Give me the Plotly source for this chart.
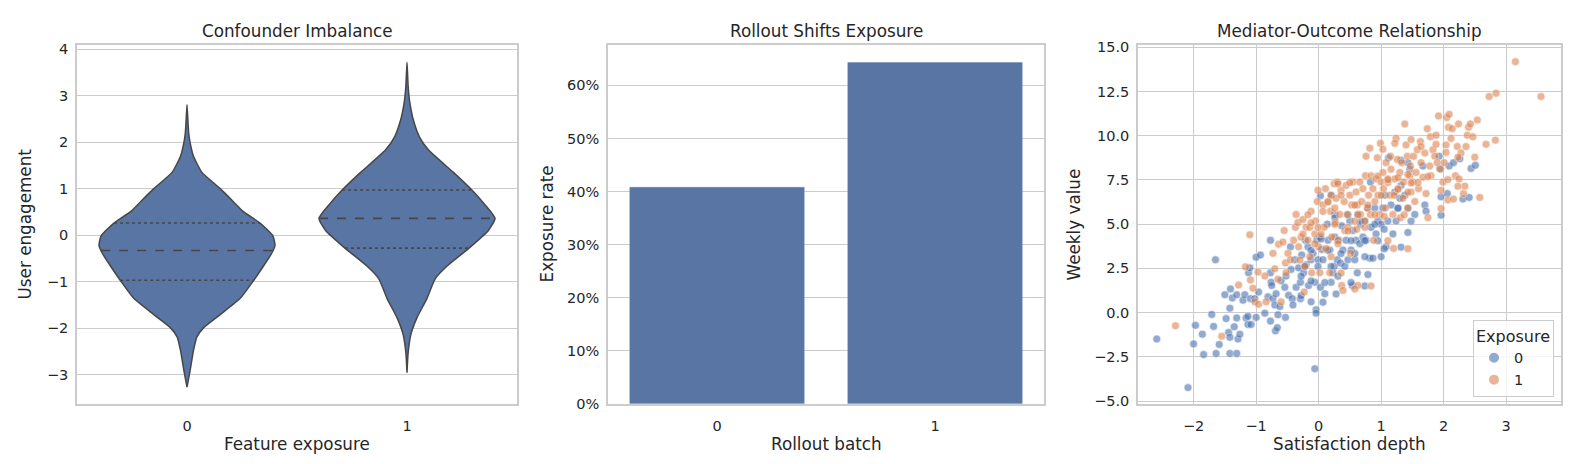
import numpy as np
import plotly.graph_objects as go

# ---------------- data ----------------
violin_groups = ["0", "1"]
# density profile of each violin: y level and half width (category units)
v0_y = [2.81, 2.39, 2.18, 1.97, 1.69, 1.35, 1.00, 0.72, 0.51, 0.26, -0.01, -0.22,
        -0.39, -0.67, -0.98, -1.36, -1.71, -1.99, -2.19, -2.47, -2.89, -3.27]
v0_hw = [0.0, 0.005, 0.008, 0.015, 0.030, 0.068, 0.151, 0.211, 0.255, 0.332, 0.390, 0.400,
         0.385, 0.347, 0.302, 0.242, 0.151, 0.076, 0.045, 0.030, 0.015, 0.0]
v1_y = [3.72, 3.22, 2.88, 2.46, 2.11, 1.83, 1.35, 0.97, 0.65, 0.36, 0.10, -0.28,
        -0.67, -0.94, -1.36, -1.78, -2.13, -2.54, -2.96]
v1_hw = [0.0, 0.005, 0.012, 0.030, 0.057, 0.098, 0.211, 0.295, 0.355, 0.400, 0.370, 0.282,
         0.181, 0.128, 0.091, 0.045, 0.018, 0.005, 0.0]
v0_quartiles = [-0.97, -0.33, 0.26]
v1_quartiles = [-0.28, 0.36, 0.97]

bar_cats = ["0", "1"]
bar_rates = [0.408, 0.643]

blue_x = [-2.59, -2.09, -2.0, -1.97, -1.86, -1.84, -1.71, -1.68, -1.64, -1.65, -1.59, -1.50, -1.48,
          -1.44, -1.42, -1.42, -1.42, -1.41, -1.38, -1.35, -1.31, -1.31, -1.29, -1.26, -1.31, -1.21,
          -1.18, -1.16, -1.13, -1.12, -1.10, -1.09, -1.13, -1.08, -1.00, -0.93, -1.02, -1.00, -0.96,
          -0.86, -0.81, -0.77, -0.77, -0.77, -0.76, -0.75, -0.73, -0.70, -0.69, -0.66, -0.65, -0.68,
          -0.62, -0.60, -0.54, -0.53, -0.52, -0.48, -0.45, -0.44, -0.42, -0.41, -0.38, -0.36, -0.32,
          -0.29, -0.29, -0.27, -0.24, -0.21, -0.20, -0.17, -0.16, -0.12, -0.12, -0.09, -0.06, -0.06,
          -0.04, -0.04, -0.03, -0.01, 0.02, 0.03, 0.03, 0.05, 0.07, 0.10, 0.14, 0.15, 0.18, 0.20,
          0.23, 0.25, 0.26, 0.26, 0.30, 0.32, 0.35, 0.37, 0.39, 0.42, 0.44, 0.47, 0.50, 0.52, 0.54,
          0.55, 0.58, 0.60, 0.62, 0.63, 0.66, 0.67, 0.71, 0.74, 0.76, 0.79, 0.82, 0.83, 0.84, 0.87,
          0.90, 0.92, 0.95, 1.00, 1.03, 1.06, 1.08, 1.11, 1.12, 1.16, 1.19, 1.22, 1.24, 1.27, 1.30,
          1.32, 1.38, 1.43, 1.46, 1.54, 1.67, 1.70, 1.72, 1.93, 1.96, 2.06, 2.09, 2.16,
          0.20, 0.26, 0.47, 0.68, 0.90, 1.05, 1.27, 1.43, 1.48, 1.43, 1.32, 0.95, 0.74, 0.52,
          0.04, -0.12, 0.15, 0.36, 0.58, 0.74, 1.00, 1.05, -0.22, -0.01, 0.20, -0.28, -0.12,
          0.10, 0.31, 0.52, 0.79, 0.74, 0.28, 0.07, -0.28,
          2.44, 2.51, 2.26, 1.94, 1.32, 2.31, 2.41, 1.96]
blue_y = [-1.49, -4.24, -1.77, -0.72, -1.22, -2.37, -0.10, -0.78, -2.31, 2.99, -1.80, 1.01, -0.34,
          -1.12, -2.31, -1.40, 0.25, 1.34, 0.83, -0.80, -2.31, -0.30, -1.49, -1.22, 1.01, 0.70,
          1.01, -0.30, -0.67, 2.25, 2.53, 0.79, -0.21, -0.67, 3.13, 3.26, 0.79, -0.27, 1.16,
          -0.03, 0.89, -0.48, 4.09, 2.25, 1.71, 1.53, 0.79, 0.43, -1.03, -0.85, -0.12, 1.07,
          0.34, 1.80, 1.43, -0.27, 2.07, 0.98, 3.72, 2.44, 0.79, 0.43, 2.99, 1.43, 2.53,
          1.71, 0.79, 3.26, 2.25, 4.09, 2.71, 3.72, 1.53, 0.61, 2.99, 3.35, 1.71, -3.17,
          0.16, -0.03, 4.09, 2.99, 4.27, 6.61, 1.43, 3.57, 2.99, 1.07, 5.00, 4.09, 3.54, 1.71,
          2.25, 2.62, 5.55, 4.27, 2.99, 4.09, 2.80, 4.91, 3.54, 2.62, 4.09, 2.99, 5.18, 3.54, 1.53,
          4.64, 2.99, 4.09, 2.25, 5.55, 3.90, 5.00, 4.27, 5.18, 4.09, 5.91, 3.08, 7.38, 4.82, 3.08,
          5.91, 4.45, 5.18, 5.00, 5.91, 6.64, 3.72, 5.18, 8.75, 6.09, 4.45, 6.82, 5.18, 5.91, 6.46,
          7.19, 6.64, 8.48, 8.11, 5.55, 8.29, 6.09, 5.73, 8.84, 6.55, 6.73, 8.29, 8.48,
          6.63, 5.35, 5.53, 5.17, 4.99, 4.71, 5.90, 5.90, 5.17, 4.53, 3.70, 4.07, 4.07, 4.07,
          4.16, 3.52, 3.52, 3.34, 3.34, 3.16, 3.16, 3.61, 2.61, 2.61, 2.61, 2.06, 1.79,
          1.70, 2.06, 1.70, 2.15, 1.51, 1.05, 0.59, 0.96,
          8.15, 8.33, 8.70, 8.15, 8.61, 6.42, 6.51, 5.51]

orange_x = [-2.29, -1.55, -1.28, -1.17, -1.10, -1.09, -1.05, -1.02, -0.97, -0.96, -0.86, -0.84, -0.73,
            -0.70, -0.65, -0.64, -0.60, -0.57, -0.55, -0.53, -0.52, -0.49, -0.45, -0.40, -0.37, -0.36,
            -0.33, -0.32, -0.28, -0.25, -0.23, -0.22, -0.20, -0.17, -0.14, -0.12, -0.11, -0.06, -0.05,
            -0.02, -0.01, 0.00, 0.02, 0.04, 0.07, 0.09, 0.11, 0.12, 0.15, 0.18, 0.19, 0.20, 0.21,
            0.25, 0.26, 0.27, 0.28, 0.30, 0.31, 0.34, 0.36, 0.37, 0.39, 0.41, 0.42, 0.44, 0.46, 0.47,
            0.50, 0.51, 0.53, 0.55, 0.58, 0.60, 0.62, 0.63, 0.66, 0.67, 0.69, 0.71, 0.74, 0.75, 0.76,
            0.78, 0.80, 0.82, 0.83, 0.84, 0.87, 0.88, 0.90, 0.92, 0.94, 0.95, 0.98, 0.99, 1.00, 1.03,
            1.04, 1.07, 1.08, 1.11, 1.14, 1.15, 1.16, 1.19, 1.20, 1.22, 1.24, 1.26, 1.27, 1.30, 1.31,
            1.33, 1.35, 1.36, 1.38, 1.40, 1.42, 1.43, 1.46, 1.47, 1.48, 1.51, 1.52, 1.54, 1.56, 1.58,
            1.60, 1.63, 1.64, 1.67, 1.70, 1.72, 1.74, 1.75, 1.78, 1.79, 1.80, 1.83, 1.86, 1.88, 1.90,
            1.92, 1.95, 1.96, 1.99, 2.01, 2.04, 2.05, 2.07, 2.08, 2.09, 2.12, 2.14, 2.16, 2.19, 2.22,
            2.24, 2.25, 2.28, 2.32, 2.36, 2.38, 2.40, 2.43, 2.47, 2.54, 2.68, 2.73, 2.83, 2.84, 3.15,
            3.56,
            0.31, 0.50, 0.95, 1.11, 1.27, 1.43, 1.00, 1.21, 1.43, 1.59, 0.15, 0.36, 0.58, 0.79,
            0.90, 0.74, 0.63, -0.17, -0.12, 0.07, -0.01, 0.26, 0.47, 0.61, 1.05, 1.37, 1.43, 1.11,
            -0.25, -0.06, 0.31, 0.36, 0.58, 0.84, -0.14, -0.30, 0.20,
            1.64, 1.48, 1.22, 1.03, 1.88, 2.04, 2.23, 2.50, 1.96, 2.58, 2.34, 2.23, 2.07, 1.75,
            1.48, 1.27, 1.11]
orange_y = [-0.74, -1.34, 1.56, 2.59, 4.40, 1.85, 1.38, 0.61, 2.29, 0.47, 2.07, 0.61, 3.35,
            2.48, 1.89, 3.87, 0.61, 3.99, 4.64, 2.81, 2.25, 3.35, 2.99, 4.09, 4.82, 5.55,
            5.09, 3.72, 4.27, 5.27, 1.16, 2.62, 4.82, 4.09, 4.82, 5.73, 2.25, 4.45, 5.18,
            6.28, 6.92, 3.72, 2.25, 4.45, 6.09, 4.82, 7.01, 3.63, 6.28, 2.25, 5.73, 6.64, 4.27,
            7.28, 5.91, 5.09, 6.46, 7.38, 4.09, 5.55, 6.92, 1.53, 1.25, 6.28, 4.64, 7.19, 5.55, 4.82,
            6.64, 3.35, 6.09, 7.38, 5.18, 6.82, 6.09, 1.53, 7.38, 5.55, 6.28, 7.01, 4.82, 7.74, 8.84,
            5.91, 6.64, 9.30, 5.55, 7.74, 7.01, 4.09, 6.28, 7.56, 8.75, 6.64, 5.55, 9.57, 7.38, 7.92,
            7.01, 5.91, 8.48, 7.56, 6.64, 8.84, 8.11, 5.55, 3.63, 7.56, 9.85, 8.66, 7.01, 7.92, 5.37,
            8.48, 6.46, 7.38, 10.67, 9.48, 8.84, 5.91, 7.74, 8.29, 6.82, 7.38, 8.84, 6.28, 7.92, 9.21,
            7.01, 9.67, 8.48, 7.65, 9.03, 6.73, 10.40, 5.37, 8.29, 9.94, 7.74, 9.21, 8.84, 10.03, 8.48,
            11.12, 8.11, 6.92, 7.38, 8.48, 9.48, 11.03, 6.37, 10.48, 11.21, 9.85, 10.40, 6.42, 7.74, 9.39,
            10.67, 7.56, 9.03, 6.73, 9.39, 10.03, 10.48, 10.67, 9.94, 10.89, 9.52, 12.22, 9.75, 12.40, 14.19,
            12.22,
            7.28, 7.35, 7.72, 7.35, 7.63, 7.81, 6.63, 6.63, 6.81, 7.35, 6.26, 6.63, 6.08, 6.08,
            5.53, 5.17, 5.53, 5.53, 5.08, 5.72, 4.81, 4.99, 4.62, 4.71, 5.44, 5.53, 3.61, 4.07,
            4.44, 3.89, 3.89, 2.24, 1.33, 1.51, 3.16, 2.97, 3.16,
            9.39, 9.79, 9.57, 9.24, 9.52, 9.06, 8.79, 8.79, 5.88, 6.51, 7.15, 7.15, 7.52, 7.70,
            7.33, 6.97, 7.52]

# ---------------- styling ----------------
FONT = "DejaVu Sans"
TXT = "#262626"
GRID = "#cccccc"
FILL = "#5875a4"
EDGE = "#474747"
BLUE = "#4c72b0"
ORANGE = "#dd8452"
W, H = 1584, 464


def px_x(p):
    return p / W


def px_y(p):
    return 1 - p / H


fig = go.Figure()

# ---------------- violins ----------------
for i, (ys, hws, qs) in enumerate([(v0_y, v0_hw, v0_quartiles), (v1_y, v1_hw, v1_quartiles)]):
    ys_a = np.array(ys)
    hw_a = np.array(hws)
    xs = np.concatenate([i + hw_a, (i - hw_a)[::-1]])
    yy = np.concatenate([ys_a, ys_a[::-1]])
    fig.add_trace(go.Scatter(x=xs, y=yy, mode="lines", fill="toself", fillcolor=FILL,
                             line=dict(color=EDGE, width=1.5, shape="spline", smoothing=0.5),
                             showlegend=False, hoverinfo="skip", xaxis="x", yaxis="y"))
    order = np.argsort(ys_a)
    for k, q in enumerate(qs):
        w = float(np.interp(q, ys_a[order], hw_a[order]))
        fig.add_trace(go.Scatter(x=[i - w, i + w], y=[q, q], mode="lines",
                                 line=dict(color=EDGE, width=1.6, dash="dash" if k == 1 else "dot"),
                                 showlegend=False, hoverinfo="skip", xaxis="x", yaxis="y"))

# ---------------- bars ----------------
fig.add_trace(go.Bar(x=[0, 1], y=bar_rates, width=0.8,
                     marker=dict(color=FILL, line=dict(color="#6a86b3", width=0.5)),
                     showlegend=False, xaxis="x2", yaxis="y2"))

# ---------------- scatter ----------------
fig.add_trace(go.Scatter(x=blue_x, y=blue_y, mode="markers", name="0",
                         marker=dict(color=BLUE, size=8, opacity=0.6, line=dict(color="white", width=0.6)),
                         xaxis="x3", yaxis="y3"))
fig.add_trace(go.Scatter(x=orange_x, y=orange_y, mode="markers", name="1",
                         marker=dict(color=ORANGE, size=8, opacity=0.6, line=dict(color="white", width=0.6)),
                         xaxis="x3", yaxis="y3"))

ydom = [px_y(402), px_y(32)]
axis_common = dict(showline=True, mirror=True, linecolor=GRID, linewidth=1.5, ticks="",
                   tickfont=dict(family=FONT, size=14.5, color=TXT), zeroline=False,
                   gridcolor=GRID, gridwidth=1)

fig.update_layout(
    width=W, height=H, margin=dict(l=0, r=0, t=0, b=0),
    paper_bgcolor="white", plot_bgcolor="white",
    font=dict(family=FONT, color=TXT),
    xaxis=dict(domain=[px_x(69), px_x(509)], range=[-0.5, 1.5], tickvals=[0, 1], ticktext=violin_groups,
               showgrid=False, anchor="y", ticklabelstandoff=8, **axis_common),
    yaxis=dict(domain=ydom, range=[-3.63, 4.09], tickvals=[-3, -2, -1, 0, 1, 2, 3, 4], showgrid=True,
               anchor="x", ticklabelstandoff=4, **axis_common),
    xaxis2=dict(domain=[px_x(600), px_x(1036)], range=[-0.5, 1.5], tickvals=[0, 1], ticktext=bar_cats,
                showgrid=False, anchor="y2", ticklabelstandoff=8, **axis_common),
    yaxis2=dict(domain=ydom, range=[0, 0.676], tickvals=[0, 0.1, 0.2, 0.3, 0.4, 0.5, 0.6], tickformat=".0%",
                showgrid=True, anchor="x2", ticklabelstandoff=4, **axis_common),
    xaxis3=dict(domain=[px_x(1130), px_x(1553)], range=[-2.89, 3.88], tickvals=[-2, -1, 0, 1, 2, 3],
                showgrid=True, anchor="y3", ticklabelstandoff=8, **axis_common),
    yaxis3=dict(domain=ydom, range=[-5.16, 15.13], tickvals=[-5, -2.5, 0, 2.5, 5, 7.5, 10, 12.5, 15],
                tickformat=".1f", showgrid=True, anchor="x3", ticklabelstandoff=4, **axis_common),
    legend=dict(title=dict(text="Exposure", font=dict(family=FONT, size=16, color=TXT)),
                x=px_x(1546), y=px_y(395), xanchor="right", yanchor="bottom",
                bgcolor="rgba(255,255,255,0.8)", bordercolor=GRID, borderwidth=1,
                font=dict(family=FONT, size=14.5, color=TXT), itemsizing="constant"),
    bargap=0.2,
)

# titles and axis labels
annots = [
    ("Confounder Imbalance", (69 + 509) / 2, 18, 0),
    ("Rollout Shifts Exposure", (600 + 1036) / 2, 18, 0),
    ("Mediator-Outcome Relationship", (1130 + 1553) / 2, 18, 0),
    ("Feature exposure", (69 + 509) / 2, 443, 0),
    ("Rollout batch", (600 + 1036) / 2, 443, 0),
    ("Satisfaction depth", (1130 + 1553) / 2, 443, 0),
    ("User engagement", 17, 217, -90),
    ("Exposure rate", 539, 217, -90),
    ("Weekly value", 1066, 217, -90),
]
for text, xp, yp, ang in annots:
    fig.add_annotation(text=text, x=px_x(xp), y=px_y(yp), xref="paper", yref="paper",
                       showarrow=False, textangle=ang, xanchor="center", yanchor="middle",
                       font=dict(family=FONT, size=16.8, color=TXT))

fig.write_html("out.html")
